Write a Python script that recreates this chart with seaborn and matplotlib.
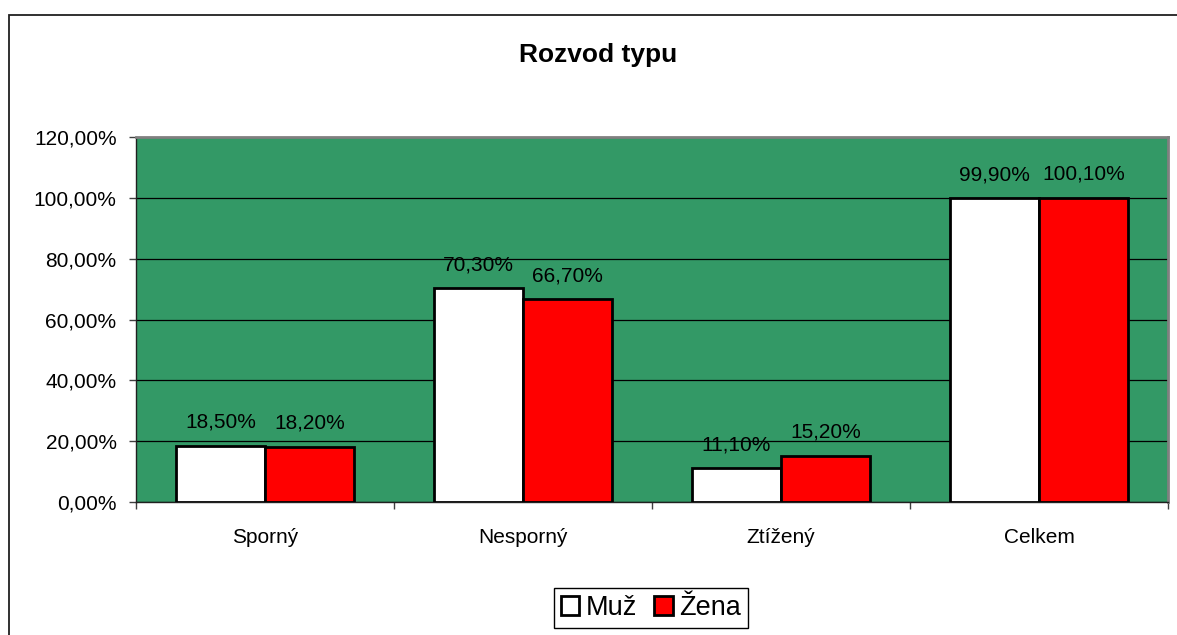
import pandas as pd
import seaborn as sns
import matplotlib.pyplot as plt
from matplotlib.patches import Rectangle, Patch
from matplotlib.ticker import FuncFormatter, FixedLocator

categories = ['Sporný', 'Nesporný', 'Ztížený', 'Celkem']
muz = [18.5, 70.3, 11.1, 99.9]
zena = [18.2, 66.7, 15.2, 100.1]
series = ['Muž', 'Žena']
colors = ['#FFFFFF', '#FF0000']

df = pd.DataFrame({
    'typ': categories * 2,
    'pohlavi': [series[0]] * 4 + [series[1]] * 4,
    'hodnota': muz + zena,
})

sns.set_theme(style='white')
plt.rcParams['font.family'] = ['Liberation Sans', 'DejaVu Sans']
plt.rcParams['text.color'] = 'black'
plt.rcParams['xtick.color'] = 'black'
plt.rcParams['ytick.color'] = 'black'

fig = plt.figure(figsize=(11.77, 6.35), dpi=100)
ax = fig.add_axes([136 / 1177, 1 - 502 / 635, (1168 - 136) / 1177, (502 - 137) / 635])
ax.set_facecolor('#339966')

sns.barplot(data=df, x='typ', y='hodnota', hue='pohlavi', palette=colors,
            order=categories, hue_order=series, width=0.69, gap=0,
            edgecolor='black', linewidth=2.0, saturation=1, ax=ax, legend=False,
            zorder=3)

fmt = lambda v: f'{v:.2f}%'.replace('.', ',')
for cont in ax.containers:
    ax.bar_label(cont, labels=[fmt(b.get_height()) for b in cont],
                 padding=10, fontsize=15, color='black')

ax.set_ylim(0, 120)
ax.set_xlim(-0.5, 3.5)
ax.set_yticks(range(0, 121, 20))
ax.yaxis.set_major_formatter(FuncFormatter(lambda v, p: fmt(v)))
ax.yaxis.grid(True, color='black', linewidth=0.9, zorder=1)
ax.set_axisbelow(True)
ax.set_xlabel('')
ax.set_ylabel('')

ax.xaxis.set_minor_locator(FixedLocator([-0.5, 0.5, 1.5, 2.5, 3.5]))
ax.tick_params(axis='x', which='major', length=0, pad=19, labelsize=15, labelcolor='black')
ax.tick_params(axis='x', which='minor', length=5, width=1, color='#404040', bottom=True)
ax.tick_params(axis='y', which='major', length=5, width=1, color='#404040', left=True,
               pad=9, labelsize=15, labelcolor='black')

for s in ['left', 'bottom']:
    ax.spines[s].set_color('#202020')
    ax.spines[s].set_linewidth(1.0)
for s in ['top', 'right']:
    ax.spines[s].set_color('#808080')
    ax.spines[s].set_linewidth(2.0)

fig.text(598 / 1177, 1 - 55 / 635, 'Rozvod typu', ha='center', va='center',
         fontsize=19, fontweight='bold', color='black')

handles = [Patch(facecolor=c, edgecolor='black', linewidth=2.0) for c in colors]
fig.legend(handles, series, loc='center', bbox_to_anchor=(651 / 1177, 1 - 608 / 635),
           ncol=2, fontsize=19.5, frameon=True, fancybox=False, edgecolor='black',
           framealpha=1, handlelength=0.7, handleheight=0.7, handletextpad=0.25,
           columnspacing=0.6, borderpad=0.25, borderaxespad=0, labelcolor='black')

fig.add_artist(Rectangle((9 / 1177, -0.1), 1.2, 1.1 - 14.5 / 635,
                         transform=fig.transFigure, fill=False,
                         edgecolor='#202020', linewidth=1.3, clip_on=False))

fig.savefig('out.png', dpi=100)
